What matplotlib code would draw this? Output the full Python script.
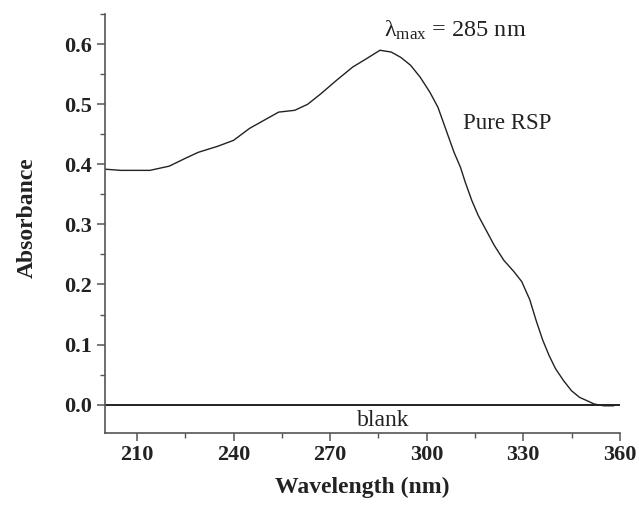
import numpy as np
import matplotlib
matplotlib.use("Agg")
import matplotlib.pyplot as plt
from matplotlib.ticker import MultipleLocator

plt.rcParams['font.family'] = ['Liberation Serif', 'DejaVu Serif']
plt.rcParams['mathtext.fontset'] = 'custom'
plt.rcParams['mathtext.rm'] = 'Liberation Serif'
plt.rcParams['mathtext.it'] = 'Liberation Serif:italic'

# absorbance spectrum
wavelength = [200, 205, 210, 214, 220, 225, 229, 235, 240, 245, 250, 254, 259,
              263, 267, 272, 277, 281, 285.5, 289, 292, 295, 298, 301, 303.5,
              306.5, 308.5, 310.5, 312, 314, 316, 318, 321, 324, 327, 329.5,
              332, 334, 336, 338, 340, 342.5, 345, 347.5, 350, 352, 355, 358]
absorbance = [0.392, 0.390, 0.390, 0.390, 0.397, 0.410, 0.420, 0.430, 0.440,
              0.460, 0.475, 0.487, 0.490, 0.500, 0.517, 0.540, 0.562, 0.575,
              0.590, 0.587, 0.578, 0.565, 0.545, 0.520, 0.495, 0.450, 0.420,
              0.395, 0.370, 0.340, 0.315, 0.295, 0.265, 0.240, 0.222, 0.205,
              0.175, 0.140, 0.108, 0.082, 0.060, 0.040, 0.023, 0.012, 0.006,
              0.001, -0.002, -0.002]
blank_x = [200, 360]
blank_y = [0, 0]

x_ticks = [210, 240, 270, 300, 330, 360]
y_ticks = [0.0, 0.1, 0.2, 0.3, 0.4, 0.5, 0.6]

fig = plt.figure(figsize=(6.39, 5.08), dpi=100)
ax = fig.add_axes([0.164, 0.148, 0.806, 0.824])

ax.plot(wavelength, absorbance, color='#222222', lw=1.0)
ax.plot(blank_x, blank_y, color='#222222', lw=1.4)

ax.set_xlim(200, 360)
ax.set_ylim(-0.047, 0.65)
ax.set_xticks(x_ticks)
ax.set_yticks(y_ticks)
ax.set_yticklabels([f"{v:.1f}" for v in y_ticks])
ax.xaxis.set_minor_locator(MultipleLocator(15))
ax.yaxis.set_minor_locator(MultipleLocator(0.05))

for side in ['top', 'right']:
    ax.spines[side].set_visible(False)
for side in ['left', 'bottom']:
    ax.spines[side].set_color('#555555')
    ax.spines[side].set_linewidth(1.2)

ax.tick_params(which='major', direction='out', length=6, width=1.1,
               color='#555555', labelsize=16, pad=3)
ax.tick_params(which='minor', direction='out', length=3.5, width=1.0,
               color='#555555')
for lab in ax.get_xticklabels() + ax.get_yticklabels():
    lab.set_fontweight('bold')
    lab.set_color('#222222')

ax.set_xlabel('Wavelength (nm)', fontsize=17, fontweight='bold', labelpad=8,
              color='#222222')
ax.set_ylabel('Absorbance', fontsize=17, fontweight='bold', color='#222222')
ax.yaxis.set_label_coords(-0.131, 0.514)

ax.text(286.6, 0.623, r'λ$_{\mathrm{max}}$ = 285 nm', fontsize=17.5,
        ha='left', va='center', color='#222222')
ax.text(325, 0.468, 'Pure RSP', fontsize=16.5, ha='center', va='center',
        color='#222222')
ax.text(286.5, -0.027, 'blank', fontsize=17, ha='center', va='center',
        color='#222222')

fig.savefig('out.png', dpi=100)
